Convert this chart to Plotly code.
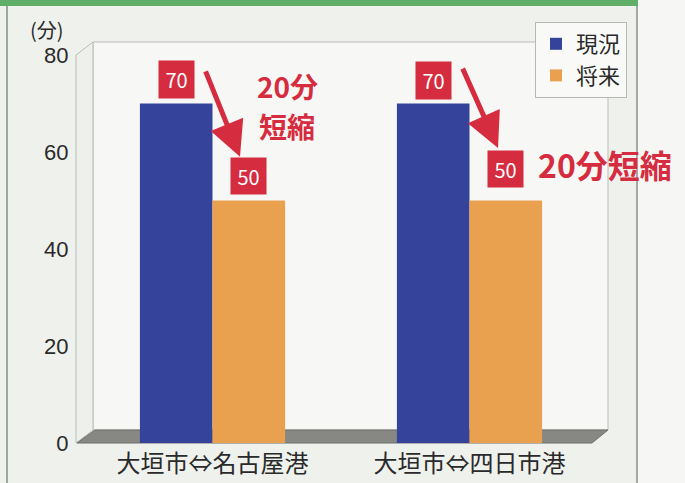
import plotly.graph_objects as go

# ---------------- data ----------------
categories = ["大垣市⇔名古屋港", "大垣市⇔四日市港"]
series_names = ["現況", "将来"]
current = [70, 70]
future = [50, 50]
y_ticks = [0, 20, 40, 60, 80]
saving_labels = ["20分<br>短縮", "20分短縮"]
unit_label = "(分)"

# ---------------- geometry helpers ----------------
W, H = 685, 483
L, R, T, B = 84, 87, 55, 40
PW, PH = W - L - R, H - T - B


def px(x):
    return (x - L) / PW


def py(y):
    return (H - B - y) / PH


def path(points):
    s = "M " + " L ".join(f"{px(a):.5f},{py(b):.5f}" for a, b in points) + " Z"
    return s


BLUE = "#35449a"
ORANGE = "#e9a150"
RED = "#d62c40"
FONT = "Noto Sans CJK JP"
TXT = "#2a2a2a"

fig = go.Figure()
fig.add_trace(go.Bar(x=categories, y=current, name=series_names[0],
                     marker=dict(color=BLUE, line=dict(width=0))))
fig.add_trace(go.Bar(x=categories, y=future, name=series_names[1],
                     marker=dict(color=ORANGE, line=dict(width=0))))

shapes = []
# outer frame: green top band, side lines
shapes.append(dict(type="rect", xref="paper", yref="paper", x0=px(0), x1=px(638), y0=py(0), y1=py(6),
                   fillcolor="#5faf68", line=dict(width=0), layer="below"))
shapes.append(dict(type="rect", xref="paper", yref="paper", x0=px(638), x1=px(685), y0=py(0), y1=py(483),
                   fillcolor="#f6f6f4", line=dict(width=0), layer="below"))
shapes.append(dict(type="line", xref="paper", yref="paper", x0=px(7), x1=px(7), y0=py(6), y1=py(483),
                   line=dict(color="#9da89d", width=2), layer="below"))
shapes.append(dict(type="line", xref="paper", yref="paper", x0=px(637), x1=px(637), y0=py(6), y1=py(483),
                   line=dict(color="#a3aaa3", width=2), layer="below"))
# back wall
shapes.append(dict(type="path", xref="paper", yref="paper",
                   path=path([(93, 42), (608, 42), (608, 430), (93, 430)]),
                   fillcolor="#f7f8f5", line=dict(color="#b9bdb9", width=1), layer="below"))
# left wall
shapes.append(dict(type="path", xref="paper", yref="paper",
                   path=path([(76, 55), (93, 42), (93, 430), (76, 443)]),
                   fillcolor="#eef0ec", line=dict(color="#b9bdb9", width=1), layer="below"))
# floor
shapes.append(dict(type="path", xref="paper", yref="paper",
                   path=path([(77, 443), (95, 430), (608, 430), (592, 443)]),
                   fillcolor="#878784", line=dict(color="#6f6f6c", width=1), layer="below"))

annotations = []
# unit label
annotations.append(dict(xref="paper", yref="paper", x=px(47), y=py(29), text=unit_label, showarrow=False,
                        font=dict(family=FONT, size=20, color=TXT), xanchor="center", yanchor="middle"))

half = 0.14
cur_shift = [24, 23]
fut_shift = [25, 32]
arrow_tip = [(0.107, 9.0), (0.111, 10.8)]
arrow_tail = [(-35, -87), (-36, -81)]
for i in range(len(categories)):
    # value boxes
    annotations.append(dict(x=i - half, y=current[i], xref="x", yref="y", text=str(current[i]),
                            showarrow=False, yshift=cur_shift[i], bgcolor=RED, width=33, height=35,
                            font=dict(family=FONT, size=20, color="white")))
    annotations.append(dict(x=i + half, y=future[i], xref="x", yref="y", text=str(future[i]),
                            showarrow=False, yshift=fut_shift[i], bgcolor=RED, width=33, height=34,
                            font=dict(family=FONT, size=20, color="white")))
    # arrows
    annotations.append(dict(x=i + arrow_tip[i][0], y=future[i] + arrow_tip[i][1], xref="x", yref="y",
                            ax=arrow_tail[i][0], ay=arrow_tail[i][1], text="", showarrow=True,
                            arrowhead=2, arrowsize=1.4, arrowwidth=5, arrowcolor=RED, standoff=0))

# first saving label on two stacked lines
line_y = [86, 126]
for k, part in enumerate(saving_labels[0].split("<br>")):
    annotations.append(dict(xref="paper", yref="paper", x=px(287), y=py(line_y[k]), text=part,
                            showarrow=False, font=dict(family=FONT, size=28, color=RED, weight="bold"),
                            xanchor="center", yanchor="middle"))
annotations.append(dict(xref="paper", yref="paper", x=px(605), y=py(164), text=saving_labels[1],
                        showarrow=False, font=dict(family=FONT, size=32, color=RED, weight="bold"),
                        xanchor="center", yanchor="middle"))

fig.update_layout(
    width=W, height=H,
    margin=dict(l=L, r=R, t=T, b=B, pad=0),
    paper_bgcolor="#eff1ed",
    plot_bgcolor="rgba(0,0,0,0)",
    barmode="group", bargap=0.435, bargroupgap=0,
    shapes=shapes, annotations=annotations,
    font=dict(family=FONT, color=TXT),
    legend=dict(x=px(535), y=py(22), xanchor="left", yanchor="top",
                bgcolor="#f9faf8", bordercolor="#b5b9b5", borderwidth=1,
                font=dict(family=FONT, size=22, color=TXT), itemwidth=30,
                tracegroupgap=0),
    xaxis=dict(type="category", range=[-0.5, 1.5], showgrid=False, zeroline=False, showline=False,
               automargin=False,
               ticks="", tickfont=dict(family=FONT, size=24, color=TXT), ticklabelstandoff=4),
    yaxis=dict(range=[0, 80], tickvals=y_ticks, showgrid=False, zeroline=False, showline=False,
               automargin=False,
               ticks="outside", ticklen=10, tickcolor="rgba(0,0,0,0)",
               tickfont=dict(family="Liberation Sans", size=22, color=TXT)),
)

fig.write_html("out.html")
